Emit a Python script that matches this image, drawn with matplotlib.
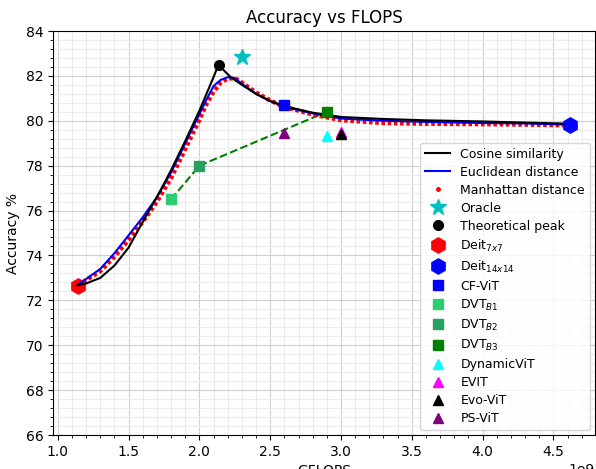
import matplotlib
matplotlib.use("Agg")
import matplotlib.pyplot as plt
from matplotlib.lines import Line2D
from matplotlib.ticker import AutoMinorLocator, MultipleLocator

UNIT = 1e9

# Cosine similarity curve (GFLOPs, accuracy)
cos_x = [1.14, 1.2, 1.3, 1.4, 1.5, 1.6, 1.7, 1.8, 1.9, 2.0, 2.05, 2.1, 2.135,
         2.18, 2.22, 2.3, 2.4, 2.5, 2.6, 2.8, 3.0, 3.3, 3.6, 4.0, 4.3, 4.6]
cos_y = [72.68, 72.75, 73.0, 73.55, 74.35, 75.5, 76.6, 77.8, 79.1, 80.45, 81.2, 81.95, 82.5,
         82.2, 81.95, 81.6, 81.2, 80.88, 80.65, 80.36, 80.17, 80.08, 80.02, 79.97, 79.92, 79.87]

# Euclidean distance curve
euc_x = [1.14, 1.2, 1.3, 1.4, 1.5, 1.6, 1.7, 1.8, 1.9, 2.0, 2.05, 2.1, 2.15, 2.2,
         2.25, 2.3, 2.4, 2.5, 2.6, 2.8, 3.0, 3.3, 3.6, 4.0, 4.3, 4.6]
euc_y = [72.68, 72.95, 73.4, 74.1, 74.9, 75.7, 76.6, 77.7, 79.0, 80.3, 80.95, 81.55, 81.82, 81.94,
         81.9, 81.65, 81.2, 80.88, 80.62, 80.33, 80.1, 80.0, 79.95, 79.9, 79.88, 79.83]

# Manhattan distance curve
man_x = [1.14, 1.2, 1.3, 1.4, 1.5, 1.6, 1.7, 1.8, 1.9, 2.0, 2.05, 2.1, 2.15, 2.2,
         2.25, 2.3, 2.4, 2.5, 2.6, 2.8, 3.0, 3.3, 3.6, 4.0, 4.3, 4.6]
man_y = [72.68, 72.9, 73.3, 73.95, 74.7, 75.5, 76.4, 77.45, 78.75, 80.05, 80.75, 81.3, 81.7, 81.88,
         81.9, 81.7, 81.26, 80.9, 80.62, 80.28, 80.03, 79.9, 79.87, 79.85, 79.83, 79.8]

# Single models (GFLOPs, accuracy)
oracle = (2.3, 82.85)
peak = (2.135, 82.5)
deit7 = (1.14, 72.65)
deit14 = (4.62, 79.82)
cfvit = (2.6, 80.7)
dvt_x = [1.8, 2.0, 2.9]
dvt_y = [76.5, 78.0, 80.4]
dynamicvit = (2.9, 79.3)
evit = (3.0, 79.5)
evovit = (3.0, 79.4)
psvit = (2.6, 79.45)

fig = plt.figure(figsize=(5.96, 4.69), dpi=100)
ax = fig.add_axes([53/596, 34/469, 542/596, 404/469])

ax.plot([v * UNIT for v in cos_x], cos_y, color='black', lw=1.5, zorder=3)
ax.plot([v * UNIT for v in euc_x], euc_y, color='blue', lw=1.5, zorder=2.5)
ax.plot([v * UNIT for v in man_x], man_y, color='red', lw=3.2, ls=(0, (0.8, 0.6)), zorder=2.2)

ax.plot([v * UNIT for v in dvt_x], dvt_y, color='green', ls='--', lw=1.5, zorder=2)

ms_sq = 7
ax.plot(oracle[0] * UNIT, oracle[1], marker='*', color='c', ms=12, ls='none', zorder=4)
ax.plot(peak[0] * UNIT, peak[1], marker='o', color='black', ms=7, ls='none', zorder=4)
ax.plot(deit7[0] * UNIT, deit7[1], marker='h', color='red', ms=11, ls='none', zorder=2)
ax.plot(deit14[0] * UNIT, deit14[1], marker='h', color='blue', ms=11, ls='none', zorder=4)
ax.plot(cfvit[0] * UNIT, cfvit[1], marker='s', color='blue', ms=ms_sq, ls='none', zorder=4)
ax.plot(dvt_x[0] * UNIT, dvt_y[0], marker='s', color='#2ecc71', ms=ms_sq, ls='none', zorder=4)
ax.plot(dvt_x[1] * UNIT, dvt_y[1], marker='s', color='#27a060', ms=ms_sq, ls='none', zorder=4)
ax.plot(dvt_x[2] * UNIT, dvt_y[2], marker='s', color='green', ms=ms_sq, ls='none', zorder=4)
ax.plot(dynamicvit[0] * UNIT, dynamicvit[1], marker='^', color='cyan', ms=ms_sq, ls='none', zorder=4)
ax.plot(evit[0] * UNIT, evit[1], marker='^', color='magenta', ms=ms_sq, ls='none', zorder=4)
ax.plot(evovit[0] * UNIT, evovit[1], marker='^', color='black', ms=ms_sq, ls='none', zorder=4)
ax.plot(psvit[0] * UNIT, psvit[1], marker='^', color='purple', ms=ms_sq, ls='none', zorder=4)

ax.set_ylim(66, 84)
ax.yaxis.set_major_locator(MultipleLocator(2))
ax.yaxis.set_minor_locator(AutoMinorLocator(5))
ax.xaxis.set_minor_locator(AutoMinorLocator(5))
ax.grid(True, which='major', color='#cfcfcf', lw=0.8)
ax.grid(True, which='minor', color='#ececec', lw=0.8)
ax.set_axisbelow(True)

ax.set_title('Accuracy vs FLOPS')
ax.set_xlabel('GFLOPS')
ax.set_ylabel('Accuracy %')

handles = [
    Line2D([], [], color='black', lw=1.5),
    Line2D([], [], color='blue', lw=1.5),
    Line2D([], [], color='red', marker='.', ls='none', ms=5),
    Line2D([], [], color='c', marker='*', ls='none', ms=12),
    Line2D([], [], color='black', marker='o', ls='none', ms=7),
    Line2D([], [], color='red', marker='h', ls='none', ms=11),
    Line2D([], [], color='blue', marker='h', ls='none', ms=11),
    Line2D([], [], color='blue', marker='s', ls='none', ms=ms_sq),
    Line2D([], [], color='#2ecc71', marker='s', ls='none', ms=ms_sq),
    Line2D([], [], color='#27a060', marker='s', ls='none', ms=ms_sq),
    Line2D([], [], color='green', marker='s', ls='none', ms=ms_sq),
    Line2D([], [], color='cyan', marker='^', ls='none', ms=ms_sq),
    Line2D([], [], color='magenta', marker='^', ls='none', ms=ms_sq),
    Line2D([], [], color='black', marker='^', ls='none', ms=ms_sq),
    Line2D([], [], color='purple', marker='^', ls='none', ms=ms_sq),
]
labels = ['Cosine similarity', 'Euclidean distance', 'Manhattan distance', 'Oracle',
          'Theoretical peak', r'Deit$_{7x7}$', r'Deit$_{14x14}$', 'CF-ViT',
          r'DVT$_{B1}$', r'DVT$_{B2}$', r'DVT$_{B3}$', 'DynamicViT', 'EVIT', 'Evo-ViT', 'PS-ViT']
ax.legend(handles, labels, loc='lower right', fontsize=9, labelspacing=0.4,
          borderaxespad=0.4)

fig.savefig('out.png', dpi=100)
